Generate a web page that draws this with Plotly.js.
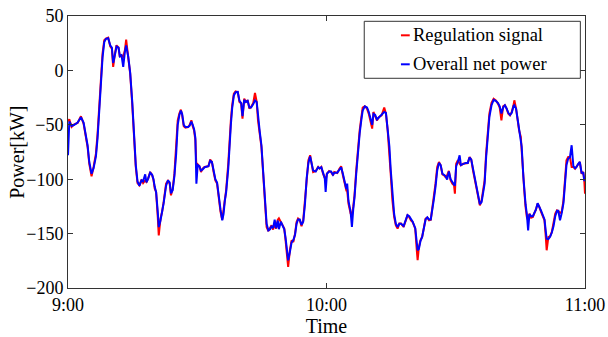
<!DOCTYPE html>
<html>
<head>
<meta charset="utf-8">
<script src="https://cdn.plot.ly/plotly-3.0.1.min.js"></script>
<style>
  html, body { margin: 0; padding: 0; background: #fff; }
  #chart { width: 608px; height: 337px; }
</style>
</head>
<body>
<div id="chart"></div>
<script>
// Minutes after 9:00 for each sample
const minutes = [
  0, 0.3, 0.84, 1.46, 2.23, 3.0, 3.62, 4.16, 4.55, 4.93, 5.47, 5.94, 6.48, 6.86, 7.25, 7.64, 8.02, 8.41, 8.8, 9.34,
  9.8, 10.19, 10.49, 10.88, 11.27, 11.73, 12.04, 12.42, 12.81, 13.2, 13.5, 13.97, 14.43, 14.9, 15.36, 15.74, 16.13, 16.59, 17.06, 17.44,
  17.91, 18.21, 18.6, 19.06, 19.53, 19.84, 20.14, 20.45, 20.84, 21.07, 21.46, 21.84, 22.2, 22.77, 23.2, 23.6, 23.9, 24.3, 24.7, 25.1,
  25.47, 25.85, 26.2, 26.5, 26.86, 27.25, 27.86, 28.2, 28.64, 28.95, 29.26, 29.57, 29.8, 30.1, 30.5, 30.86, 31.25, 31.7, 32.25, 32.6,
  33.0, 33.4, 33.8, 34.2, 34.6, 35.0, 35.4, 35.8, 36.1, 36.4, 36.7, 37.2, 37.5, 37.8, 38.1, 38.5, 38.9, 39.4, 39.8, 40.2,
  40.5, 40.9, 41.3, 41.7, 42.1, 42.5, 43.0, 43.4, 43.8, 44.1, 44.5, 44.9, 45.3, 45.7, 46.1, 46.5, 46.9, 47.25, 47.6, 47.96,
  48.3, 48.7, 48.95, 49.4, 49.8, 50.2, 50.5, 50.9, 51.1, 51.5, 51.9, 52.3, 52.7, 53.05, 53.4, 53.8, 54.2, 54.6, 55.0, 55.4,
  55.8, 56.2, 56.5, 56.9, 57.5, 58.06, 58.4, 58.8, 59.2, 59.6, 59.8, 60.1, 60.6, 61.07, 61.5, 61.8, 62.5, 63.0, 63.4, 63.8,
  64.2, 64.6, 64.8, 65.1, 65.6, 65.9, 66.2, 66.5, 66.9, 67.3, 67.7, 68.1, 68.4, 68.9, 69.4, 69.8, 70.2, 70.6, 70.9, 71.3,
  71.7, 72.2, 72.8, 73.4, 73.8, 74.2, 74.6, 74.9, 75.3, 75.7, 76.1, 76.5, 76.9, 77.3, 77.9, 78.4, 78.8, 79.2, 79.6, 80.0,
  80.6, 80.9, 81.15, 81.45, 81.8, 82.2, 82.6, 83.0, 83.4, 83.8, 84.2, 84.5, 84.9, 85.3, 85.7, 86.1, 86.5, 86.9, 87.3, 87.6,
  88.0, 88.4, 88.8, 89.2, 89.6, 89.8, 90.1, 90.5, 90.9, 91.2, 91.7, 92.3, 92.8, 93.2, 93.6, 94.0, 94.4, 94.7, 95.2, 95.6,
  96.0, 96.3, 96.7, 97.05, 97.4, 97.8, 98.3, 98.8, 99.3, 99.8, 100.2, 100.6, 101.0, 101.4, 101.8, 102.2, 102.6, 103.0, 103.4, 103.6,
  104.0, 104.3, 104.7, 105.1, 105.3, 105.7, 105.9, 106.2, 106.5, 106.8, 107.1, 107.5, 107.9, 108.2, 108.6, 109.0, 109.4, 109.8, 110.2, 110.6,
  110.9, 111.1, 111.5, 111.9, 112.3, 112.7, 113.1, 113.5, 113.8, 114.2, 114.6, 115.0, 115.4, 115.7, 116.1, 116.5, 116.9, 117.3, 117.7, 118.0,
  118.4, 118.8, 119.2, 119.6, 119.83, 120
];

// Regulation signal [kW]
const regulationSignal = [
  -47, -45, -52, -49.5, -48.3, -42.2, -48.9, -62.7, -70.4, -85.7, -97.3, -88.8, -76.5, -58.1, -30.5, -6, 15.4, 27.7, 29.2, 30.1,
  22.1, 20, 3.2, 15.4, 23.1, 20.9, 12.4, 13.9, 12.4, 18.5, 28.3, 12.4, -3, -30.5, -64.2, -88.8, -103.5, -105.6, -100.4, -103.5,
  -101, -102.5, -99.5, -93.4, -96.4, -100.4, -108.7, -111.7, -134.7, -151.6, -136.2, -130.1, -120.9, -104.1, -101.6, -104.1, -114.8, -108.7, -94.9, -73.4,
  -45.9, -39.7, -36.1, -41.3, -51.4, -52.6, -52, -50.5, -45.9, -51.4, -55.1, -64.2, -88.8, -86.3, -88.1, -93.4, -90.3, -88.8, -88.1, -88.1,
  -82, -84.2, -93.4, -101, -104.1, -119.4, -130.1, -137.2, -128.6, -116.3, -110.2, -85.7, -61.2, -45.9, -32.1, -21.4, -19.2, -19.8, -29, -30.5,
  -44.3, -26, -29, -27.5, -35.1, -33.6, -29.9, -20.7, -29, -45.9, -58.1, -70.4, -94.9, -119.4, -143.9, -147.6, -145.4, -142.4, -146.3, -141,
  -145.4, -137.2, -136, -139.3, -143.3, -145.4, -156.2, -173, -180.7, -165.3, -156.2, -157.7, -150, -139.3, -136.2, -137.8, -143.3, -137.8, -119.4, -94.9,
  -82.6, -78, -85.7, -93.4, -92.4, -88.8, -90.3, -88.8, -94.9, -99.5, -101, -94.9, -92.4, -93.4, -96.4, -93.4, -94.3, -90.3, -88.1, -96.4,
  -104.1, -110.2, -110, -122.5, -131.6, -133.2, -125.5, -114.8, -91.8, -70.4, -55.1, -42.8, -34.2, -33, -35.1, -39.7, -45.9, -53.5, -38.2, -41.3,
  -45.9, -42.8, -41.3, -34.2, -39.7, -55.1, -73.4, -94.9, -119.4, -134.7, -142.4, -145.4, -140.8, -140.8, -143.9, -137.8, -133.2, -134.7, -137.8, -139.3,
  -145.4, -162.3, -174.5, -162.3, -156.2, -153.1, -143.9, -136.2, -135.3, -137.8, -137.2, -128.6, -116.3, -104.1, -88.8, -84.2, -87.2, -95.5, -96.4, -97.9,
  -96.4, -92.4, -101, -104.1, -105.6, -113.3, -85.7, -82.6, -85.7, -87.2, -85.7, -85.1, -85.1, -79.6, -82, -91.8, -99.5, -107.1, -117.9, -124,
  -119.4, -110.2, -101, -76.5, -55.1, -39.7, -29.9, -26, -27.5, -30.5, -34.2, -45.9, -33, -32, -35.1, -39.7, -41.3, -38.2, -32.1, -27.5,
  -35.1, -44.3, -55.1, -61.2, -76.5, -101, -110.2, -125.5, -134.7, -137.8, -131.6, -135.3, -134.7, -131.6, -128, -122.5, -125.5, -130.1, -134.1, -137.8,
  -153.1, -165.3, -153.1, -152.5, -148.5, -140.8, -131.6, -128.6, -129.2, -131, -130.1, -119.4, -97.9, -82.6, -79.6, -79.6, -88.8, -88.8, -90.3, -88.8,
  -86.3, -84.2, -94.9, -93.4, -101, -113.3
];

// Overall net power [kW]
const overallNetPower = [
  -78, -47, -51, -50, -48, -43, -48, -61, -69, -84, -95, -90, -79, -62, -35, -10, 12, 26, 29, 29.5,
  23, 21, 6.8, 14, 22, 21, 13, 14, 3.2, 17, 23, 13, -2, -28, -62, -87, -102, -106, -101, -102,
  -95.5, -103, -99.5, -94, -96, -100, -107, -112, -130, -144, -138, -131, -122, -106, -101, -103, -113, -110, -97, -77,
  -50, -41, -37, -40, -50, -52, -52, -51, -47, -50, -54, -62, -104.1, -87, -88, -92, -91, -89, -88, -88,
  -83, -84, -92, -100, -103, -117, -128, -137.8, -132, -120, -112, -90, -66, -50, -35, -23, -20, -19.8, -28, -30,
  -42, -27, -29, -28, -34, -34, -31, -27.5, -29, -44, -56, -69, -92, -117, -141, -147, -146, -143, -145, -137.2,
  -145, -138, -146, -139, -143, -146, -154, -168, -174.5, -167, -158, -156, -151, -141, -137, -137, -142, -139, -123, -99,
  -85, -79, -84, -92, -93, -89, -90, -89, -94, -99, -111.7, -95, -93, -93, -96, -94, -94, -91, -89, -95,
  -103, -109, -104, -120, -130, -143.9, -128, -117, -95, -74, -58, -45, -37, -33, -34, -38, -44, -50, -40, -41,
  -45, -43, -41, -38.2, -39, -52, -70, -91, -116, -132, -141, -144, -141, -141, -143, -138, -133, -134, -137, -139,
  -145, -158, -165.3, -164, -157, -153, -145, -137, -135, -137, -137, -130, -119, -107, -92, -85, -87, -95, -96, -97,
  -100.4, -93, -100, -103, -105, -106, -88, -84, -78, -87, -86, -85, -85, -80, -82, -90, -98, -105, -116, -123,
  -121, -113, -104, -80, -59, -43, -32, -27, -28, -30, -33, -39.7, -34, -32, -35, -39, -41, -39, -33, -32,
  -35, -43, -53, -61.2, -70, -98, -110, -123, -132, -147, -132, -134, -134, -132, -128, -122, -125, -129, -133, -137,
  -148, -154.6, -155, -153, -149, -143, -134, -129, -129, -137.8, -131, -122, -102, -87, -81, -80, -68.8, -88, -90, -89,
  -86, -84, -94, -94, -101, -101
];

const seriesNames = ['Regulation signal', 'Overall net power'];
const seriesColors = ['#ff0000', '#0000ff'];
const xTickTimes = ['09:00:00', '10:00:00', '11:00:00'];
const yTicks = [-200, -150, -100, -50, 0, 50];
const yRange = [-200, 50];

const DAY = '2000-01-01 ';
function stamp(m) {
  const s = Math.round(m * 60) + 9 * 3600;
  const hh = String(Math.floor(s / 3600)).padStart(2, '0');
  const mm = String(Math.floor((s % 3600) / 60)).padStart(2, '0');
  const ss = String(s % 60).padStart(2, '0');
  return DAY + hh + ':' + mm + ':' + ss;
}
const times = minutes.map(stamp);

const traces = [regulationSignal, overallNetPower].map((vals, i) => ({
  x: times,
  y: vals,
  type: 'scatter',
  mode: 'lines',
  name: seriesNames[i],
  line: { color: seriesColors[i], width: 2 },
  showlegend: false
}));

const serif = 'Liberation Serif, Times New Roman, serif';
const axisColor = '#333333';

// Legend box drawn as shapes + text
const legendY = [0.929, 0.8224];
const shapes = [{
  type: 'rect', xref: 'paper', yref: 'paper',
  x0: 0.573, x1: 0.991, y0: 0.771, y1: 0.9805,
  line: { color: axisColor, width: 1 }, fillcolor: '#ffffff'
}];
const annotations = [];
seriesNames.forEach((name, i) => {
  shapes.push({
    type: 'line', xref: 'paper', yref: 'paper',
    x0: 0.644, x1: 0.661, y0: legendY[i], y1: legendY[i],
    line: { color: seriesColors[i], width: 2 }
  });
  annotations.push({
    xref: 'paper', yref: 'paper', x: 0.663, y: legendY[i],
    xanchor: 'left', yanchor: 'middle', showarrow: false,
    text: name, font: { family: serif, size: 18.5, color: '#000' }
  });
});

// Vertical y-axis label
annotations.push({
  xref: 'paper', yref: 'paper', x: -0.099, y: 0.5,
  xanchor: 'center', yanchor: 'middle', showarrow: false, textangle: -90,
  text: 'Power[kW]', font: { family: serif, size: 20, color: '#000' }
});

const layout = {
  width: 608,
  height: 337,
  margin: { l: 68, r: 23, t: 16, b: 49 },
  paper_bgcolor: '#ffffff',
  plot_bgcolor: '#ffffff',
  showlegend: false,
  xaxis: {
    type: 'date',
    range: [DAY + xTickTimes[0], DAY + xTickTimes[2]],
    tickvals: xTickTimes.map(t => DAY + t),
    tickformat: '%-H:%M',
    ticks: 'inside', ticklen: 5, tickcolor: axisColor, tickwidth: 1,
    showline: true, linecolor: axisColor, linewidth: 1, mirror: 'ticks',
    showgrid: false, zeroline: false,
    tickfont: { family: serif, size: 18, color: '#000' },
    title: { text: 'Time', font: { family: serif, size: 20, color: '#000' } }
  },
  yaxis: {
    range: yRange,
    tickvals: yTicks,
    ticks: 'inside', ticklen: 5, tickcolor: axisColor, tickwidth: 1,
    showline: true, linecolor: axisColor, linewidth: 1, mirror: 'ticks',
    showgrid: false, zeroline: false,
    tickfont: { family: serif, size: 18, color: '#000' }
  },
  shapes: shapes,
  annotations: annotations
};

Plotly.newPlot('chart', traces, layout, { staticPlot: true, displayModeBar: false });
</script>
</body>
</html>
